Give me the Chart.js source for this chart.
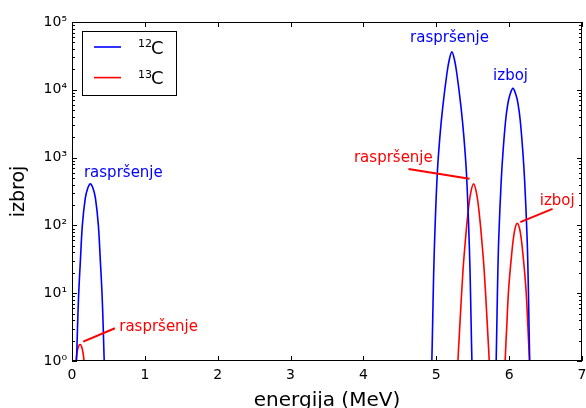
<!DOCTYPE html>
<html>
<head>
<meta charset="utf-8">
<script src="https://cdn.jsdelivr.net/npm/chart.js@4/dist/chart.umd.min.js"></script>
<style>
  html, body { margin: 0; padding: 0; background: #fff; }
  #wrap { width: 586px; height: 408px; }
</style>
</head>
<body>
<div id="wrap"><canvas id="c" width="586" height="408"></canvas></div>
<script>
// Axis ticks
const energyTicks = [0, 1, 2, 3, 4, 5, 6, 7];
const countDecades = [0, 1, 2, 3, 4, 5];

// 12C spectrum: energy (MeV) and counts; null separates the peaks
const c12Energy = [
  0.045, 0.062, 0.075, 0.092, 0.115, 0.142, 0.182, 0.217, 0.252, 0.287, 0.322, 0.362, 0.389, 0.412, 0.429, 0.442, 0.459,
  1.0,
  4.925, 4.939, 4.949, 4.964, 4.984, 5.014, 5.049, 5.089, 5.146, 5.179, 5.214, 5.249, 5.282, 5.339, 5.379, 5.414, 5.444, 5.464, 5.479, 5.489, 5.503,
  5.6,
  5.807, 5.822, 5.839, 5.857, 5.892, 5.917, 5.952, 5.982, 6.012, 6.052, 6.092, 6.122, 6.152, 6.187, 6.212, 6.247, 6.265, 6.282, 6.297
];
const c12Counts = [
  0.4, 1, 3, 10, 30, 100, 250, 355, 410, 355, 250, 100, 30, 10, 3, 1, 0.4,
  null,
  0.3, 1, 3.2, 19.5, 100, 590, 2000, 5600, 17400, 28000, 36300, 28000, 17400, 5600, 2000, 590, 100, 19.5, 3.2, 1, 0.3,
  null,
  0.3, 1, 10, 63, 470, 1260, 3550, 6200, 8500, 10500, 8500, 6200, 3550, 1260, 470, 63, 10, 1, 0.3
];

// 13C spectrum
const c13Energy = [
  0.045, 0.055, 0.07, 0.09, 0.11, 0.13, 0.15, 0.165, 0.175,
  1.0,
  5.282, 5.297, 5.312, 5.332, 5.367, 5.397, 5.427, 5.467, 5.512, 5.557, 5.597, 5.627, 5.657, 5.692, 5.712, 5.727, 5.742,
  5.85,
  5.932, 5.945, 5.967, 5.992, 6.032, 6.072, 6.112, 6.152, 6.192, 6.232, 6.257, 6.279, 6.292
];
const c13Counts = [
  0.7, 1, 1.35, 1.65, 1.75, 1.65, 1.35, 1, 0.7,
  null,
  0.4, 1, 2, 5, 22, 56, 126, 280, 410, 280, 126, 56, 22, 5, 2, 1, 0.4,
  null,
  0.4, 1, 3.2, 11, 35, 80, 107, 80, 35, 11, 3.2, 1, 0.4
];

// Legend entries
const isotopeMass = ['12', '13'];
const elementSymbol = 'C';

// Peak labels: text, anchor (energy, counts), optional leader line end (energy, counts)
const peakLabelText = ['raspršenje', 'raspršenje', 'izboj', 'raspršenje', 'izboj', 'raspršenje'];
const peakLabelSeries = [0, 0, 0, 1, 1, 1];
const peakLabelAt = [[0.164, 517], [4.64, 50000], [5.78, 13960], [3.87, 871], [6.42, 200], [0.648, 2.77]];
const leaderFrom = [null, null, null, [4.618, 679], [6.596, 175], [0.589, 3.04]];
const leaderTo = [null, null, null, [5.456, 489], [6.153, 112], [0.154, 1.93]];

const seriesColors = ['#0000ff', '#ff0000'];
const FONT = 'DejaVu Sans';
const SUP = ['\u2070', '\u00b9', '\u00b2', '\u00b3', '\u2074', '\u2075'];

function toPoints(xs, ys) {
  return xs.map((x, i) => ({ x: x, y: ys[i] }));
}

const framePlugin = {
  id: 'frame',
  afterDatasetsDraw(chart) {
    const { ctx, chartArea: a, scales } = chart;
    const xs = scales.x, ys = scales.y;
    ctx.save();
    // frame
    ctx.strokeStyle = '#000';
    ctx.lineWidth = 1;
    ctx.strokeRect(Math.round(a.left) + 0.5, Math.round(a.top) + 0.5,
      Math.round(a.right - a.left) - 1, Math.round(a.bottom - a.top) - 1);
    // inward ticks on all four sides
    const major = 5, minor = 3;
    ctx.beginPath();
    energyTicks.forEach(v => {
      const px = Math.round(xs.getPixelForValue(v)) + 0.5;
      ctx.moveTo(px, a.bottom); ctx.lineTo(px, a.bottom - major);
      ctx.moveTo(px, a.top); ctx.lineTo(px, a.top + major);
    });
    countDecades.forEach(d => {
      const py = Math.round(ys.getPixelForValue(Math.pow(10, d))) + 0.5;
      ctx.moveTo(a.left, py); ctx.lineTo(a.left + major, py);
      ctx.moveTo(a.right, py); ctx.lineTo(a.right - major, py);
      if (d < countDecades[countDecades.length - 1]) {
        for (let m = 2; m <= 9; m++) {
          const pm = Math.round(ys.getPixelForValue(m * Math.pow(10, d))) + 0.5;
          ctx.moveTo(a.left, pm); ctx.lineTo(a.left + minor, pm);
          ctx.moveTo(a.right, pm); ctx.lineTo(a.right - minor, pm);
        }
      }
    });
    ctx.stroke();

    // peak labels and leader lines
    ctx.font = '15px "' + FONT + '"';
    ctx.textAlign = 'left';
    ctx.textBaseline = 'alphabetic';
    peakLabelText.forEach((t, i) => {
      const col = seriesColors[peakLabelSeries[i]];
      ctx.fillStyle = col;
      ctx.fillText(t, xs.getPixelForValue(peakLabelAt[i][0]), ys.getPixelForValue(peakLabelAt[i][1]));
      if (leaderFrom[i]) {
        ctx.strokeStyle = col;
        ctx.lineWidth = 2;
        ctx.beginPath();
        ctx.moveTo(xs.getPixelForValue(leaderFrom[i][0]), ys.getPixelForValue(leaderFrom[i][1]));
        ctx.lineTo(xs.getPixelForValue(leaderTo[i][0]), ys.getPixelForValue(leaderTo[i][1]));
        ctx.stroke();
      }
    });

    // legend box
    const bx = Math.round(a.left) + 10, by = Math.round(a.top) + 9, bw = 94, bh = 64;
    ctx.fillStyle = '#fff';
    ctx.fillRect(bx, by, bw, bh);
    ctx.strokeStyle = '#000';
    ctx.lineWidth = 1;
    ctx.strokeRect(bx + 0.5, by + 0.5, bw, bh);
    chart.data.datasets.forEach((ds, i) => {
      const ly = by + 16 + i * 30.6;
      ctx.strokeStyle = ds.borderColor;
      ctx.lineWidth = 1.6;
      ctx.beginPath();
      ctx.moveTo(bx + 12, ly); ctx.lineTo(bx + 39, ly);
      ctx.stroke();
      ctx.fillStyle = '#000';
      ctx.font = '11px "' + FONT + '"';
      ctx.fillText(isotopeMass[i], bx + 56, ly);
      ctx.font = '18px "' + FONT + '"';
      ctx.fillText(elementSymbol, bx + 69, ly + 6.6);
    });
    ctx.restore();
  }
};

new Chart(document.getElementById('c'), {
  type: 'line',
  data: {
    datasets: [
      {
        label: isotopeMass[0] + elementSymbol,
        data: toPoints(c12Energy, c12Counts),
        borderColor: seriesColors[0], borderWidth: 1.6,
        pointRadius: 0, fill: false, spanGaps: false,
        tension: 0.35, clip: 0
      },
      {
        label: isotopeMass[1] + elementSymbol,
        data: toPoints(c13Energy, c13Counts),
        borderColor: seriesColors[1], borderWidth: 1.6,
        pointRadius: 0, fill: false, spanGaps: false,
        tension: 0.35, clip: 0
      }
    ]
  },
  options: {
    responsive: false,
    animation: false,
    devicePixelRatio: 1,
    layout: { padding: { top: 22, right: 4, left: 0, bottom: 0 } },
    plugins: { legend: { display: false }, tooltip: { enabled: false } },
    scales: {
      x: {
        type: 'linear', min: 0, max: 7,
        afterBuildTicks: s => { s.ticks = energyTicks.map(v => ({ value: v })); },
        afterFit: s => { s.height = 47; s.paddingLeft = 0; s.paddingRight = 0; },
        grid: { display: false, drawTicks: false },
        border: { display: false },
        ticks: { color: '#000', padding: 6, maxRotation: 0, font: { family: FONT, size: 14 } },
        title: {
          display: true, text: 'energija (MeV)', color: '#000',
          font: { family: FONT, size: 20, lineHeight: 1 }, padding: { top: 0, bottom: -3 }
        }
      },
      y: {
        type: 'logarithmic', min: 1, max: 1e5,
        afterBuildTicks: s => { s.ticks = countDecades.map(d => ({ value: Math.pow(10, d), major: true })); },
        afterFit: s => { s.width = 72; s.paddingTop = 0; s.paddingBottom = 0; },
        grid: { display: false, drawTicks: false },
        border: { display: false },
        ticks: {
          color: '#000', padding: 5, font: { family: FONT, size: 14 },
          callback: v => '10' + SUP[Math.round(Math.log10(v))]
        },
        title: {
          display: true, text: 'izbroj', color: '#000',
          font: { family: FONT, size: 19, lineHeight: 1.2 }, padding: { top: 8, bottom: 0 }
        }
      }
    }
  },
  plugins: [framePlugin]
});
</script>
</body>
</html>
